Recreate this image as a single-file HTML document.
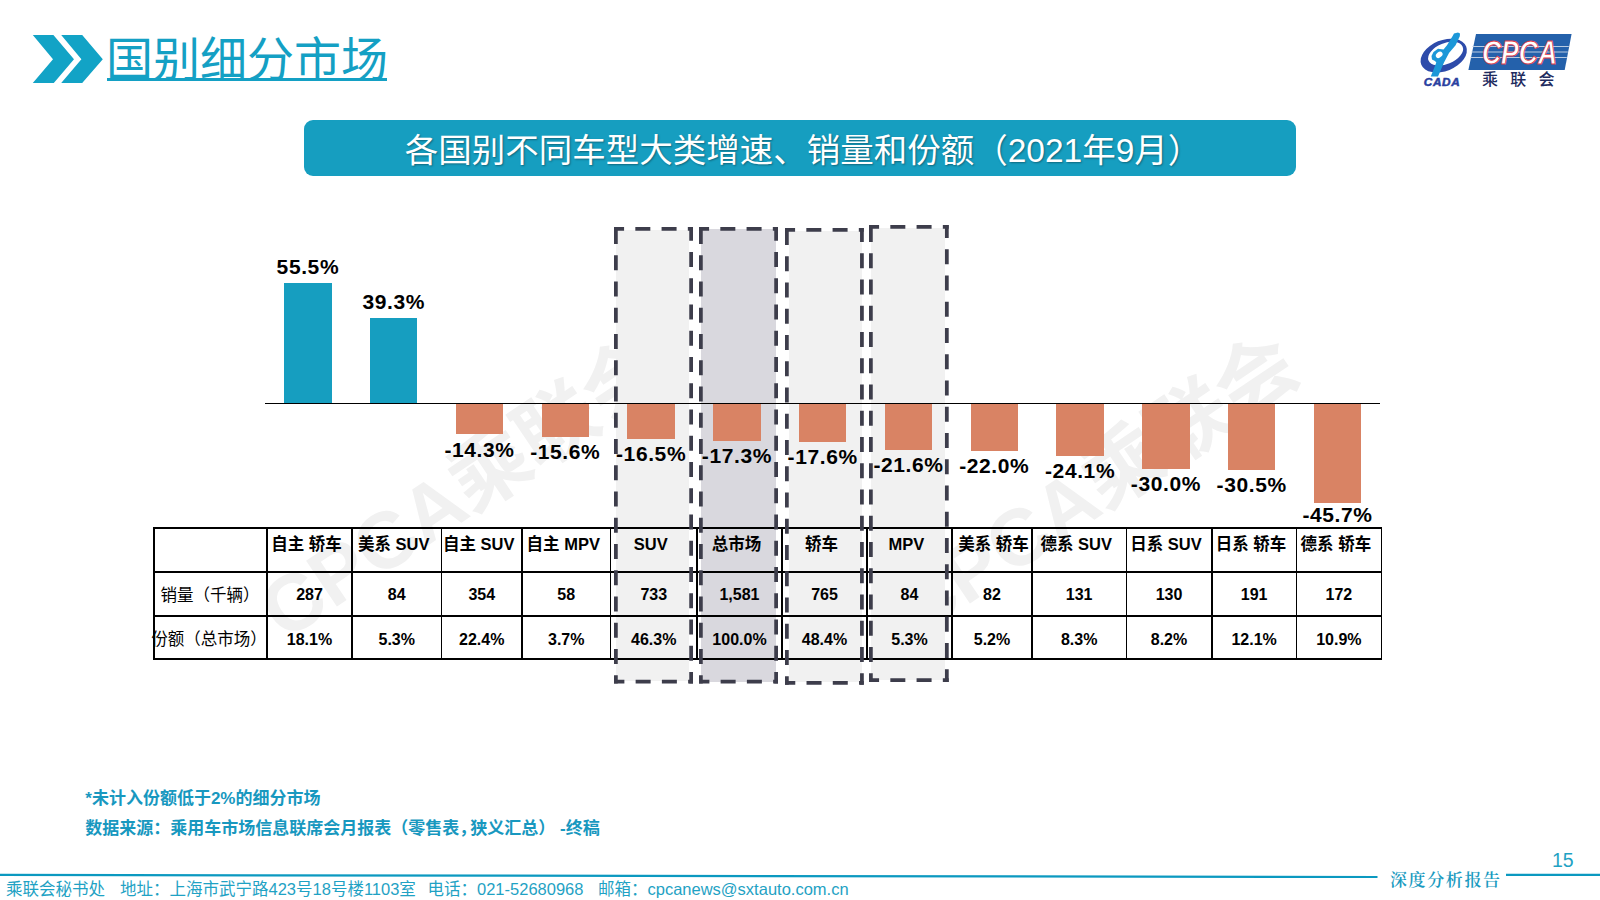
<!DOCTYPE html>
<html lang="zh-CN"><head><meta charset="utf-8"><title>国别细分市场</title>
<style>
*{margin:0;padding:0;box-sizing:border-box}
html,body{width:1600px;height:900px;overflow:hidden;background:#fff}
body{position:relative;font-family:"Liberation Sans","Noto Sans CJK SC",sans-serif;color:#000}
.a{position:absolute}
.lbl{position:absolute;font-family:"Liberation Sans","Noto Sans CJK SC",sans-serif;font-weight:bold;font-size:21px;letter-spacing:0.6px;line-height:20px;white-space:nowrap;text-align:center;width:100px}
.ft{top:878px;font-size:16.5px;line-height:22px;color:#1FA2C4;white-space:nowrap}
.cell{position:absolute;text-align:center;white-space:nowrap;font-weight:bold;font-size:16px;line-height:20px}
</style></head><body>
<svg class="a" style="left:0;top:0" width="120" height="100" viewBox="0 0 120 100">
<polygon fill="#12A3C6" points="32.8,35.1 53.4,35.1 74,59.2 53.8,83 32.8,83 53,59.2"/>
<polygon fill="#12A3C6" points="61.2,35.1 82.2,35.1 102.8,59.2 82.2,83 61.2,83 81.4,59.2"/>
</svg>
<div class="a" style="left:106px;top:32px;font-family:'Liberation Sans','Noto Sans CJK SC',sans-serif;font-weight:400;font-size:47px;line-height:56px;color:#14A0C4;white-space:nowrap">国别细分市场</div>
<div class="a" style="left:107px;top:78px;width:280px;height:3px;background:#14A0C4"></div>
<svg class="a" style="left:1410px;top:26px" width="170" height="66" viewBox="1410 26 170 66">
<polygon fill="#2461AB" points="1476,34 1571.6,34 1564.7,69.9 1468.4,69.9"/>
<g stroke="#B9CBE2" stroke-width="1.1"><line x1="1472.5" y1="46.5" x2="1568.8" y2="46.5"/><line x1="1471.5" y1="52" x2="1567.8" y2="52"/><line x1="1470.5" y1="57.5" x2="1566.8" y2="57.5"/></g>
<text x="1519.5" y="64.4" text-anchor="middle" font-family="Liberation Sans, sans-serif" font-weight="bold" font-style="italic" font-size="32.5" fill="#fff" stroke="#E23C48" stroke-width="0.9" transform="translate(1519.5 0) scale(0.815 1) translate(-1519.5 0)">CPCA</text>
<text x="1482" y="84.8" font-family="Liberation Sans, Noto Sans CJK SC, sans-serif" font-weight="500" font-size="16" fill="#1E2B5E" letter-spacing="12.3">乘联会</text>
<g transform="rotate(-22 1443.75 55.6)"><ellipse cx="1443.75" cy="55.6" rx="24.2" ry="15.4" fill="#2D4BAA"/></g>
<g transform="rotate(-22 1445.6 53.6)"><ellipse cx="1445.6" cy="53.6" rx="18.4" ry="10.4" fill="#fff"/></g>
<path fill="#1C97D8" d="M1430.8,76.5 L1438,76.5 L1444,62.4 L1449,53 L1455.6,45.2 L1459.8,36.3 L1460,33.5 L1458,32.5 L1454,33.5 L1452.5,36.3 L1447,45.2 L1443.5,49.5 L1438,48.8 L1433.5,52 L1431.5,56 L1432,59.5 L1435,61 L1436.3,62.4 Z"/>
<ellipse cx="1439.2" cy="54.8" rx="3.7" ry="2.7" transform="rotate(-40 1439.2 54.8)" fill="#fff"/>
<text x="1423.8" y="85.6" font-family="Liberation Sans, sans-serif" font-weight="bold" font-style="italic" font-size="10.5" fill="#2A3FA0" stroke="#2A3FA0" stroke-width="0.5" letter-spacing="0.6" transform="translate(1423.8 85.6) scale(1.12 1) translate(-1423.8 -85.6)">CADA</text>
</svg>
<div class="a" style="left:304px;top:120px;width:992px;height:56px;border-radius:9px;background:#169EC0"></div>
<div class="a" style="left:303px;top:123px;width:1000px;height:56px;text-align:center;font-family:'Liberation Sans','Noto Sans CJK SC',sans-serif;font-size:33.5px;line-height:56px;color:#fff;white-space:nowrap;text-shadow:1px 1px 2px rgba(0,0,0,.35)">各国别不同车型大类增速、销量和份额（2021年9月）</div>
<div class="a" style="left:163px;top:439px;width:600px;height:100px;line-height:100px;text-align:center;font-family:'Liberation Sans','Noto Sans CJK SC',sans-serif;font-weight:bold;font-size:80px;color:#F1F1F1;transform:rotate(-34deg);white-space:nowrap">CPCA乘联会</div>
<div class="a" style="left:796px;top:436px;width:600px;height:100px;line-height:100px;text-align:center;font-family:'Liberation Sans','Noto Sans CJK SC',sans-serif;font-weight:bold;font-size:80px;color:#F1F1F1;transform:rotate(-34deg);white-space:nowrap">CPCA乘联会</div>
<div class="a" style="left:615.7px;top:229.5px;width:73.3px;height:451.5px;background:#F1F1F1"></div>
<div class="a" style="left:700.6px;top:228.5px;width:75.9px;height:453.5px;background:#D9D8DE"></div>
<div class="a" style="left:788.5px;top:231px;width:73.0px;height:451.0px;background:#F1F1F1"></div>
<div class="a" style="left:871.4px;top:228px;width:73.6px;height:452.0px;background:#F1F1F1"></div>
<div class="a" style="left:265.0px;top:403.0px;width:1115px;height:1.2px;background:#000"></div>
<div class="a" style="left:284.1px;top:283.1px;width:47.5px;height:120.4px;background:#169EC0"></div>
<div class="lbl" style="left:257.9px;top:256.7px">55.5%</div>
<div class="a" style="left:369.9px;top:318.2px;width:47.5px;height:85.3px;background:#169EC0"></div>
<div class="lbl" style="left:343.7px;top:291.8px">39.3%</div>
<div class="a" style="left:455.8px;top:404.2px;width:47.5px;height:30.3px;background:#D98364"></div>
<div class="lbl" style="left:429.5px;top:439.5px">-14.3%</div>
<div class="a" style="left:541.5px;top:404.2px;width:47.5px;height:33.2px;background:#D98364"></div>
<div class="lbl" style="left:515.3px;top:442.4px">-15.6%</div>
<div class="a" style="left:627.3px;top:404.2px;width:47.5px;height:35.1px;background:#D98364"></div>
<div class="lbl" style="left:601.1px;top:444.3px">-16.5%</div>
<div class="a" style="left:713.1px;top:404.2px;width:47.5px;height:36.8px;background:#D98364"></div>
<div class="lbl" style="left:686.9px;top:446.0px">-17.3%</div>
<div class="a" style="left:798.9px;top:404.2px;width:47.5px;height:37.5px;background:#D98364"></div>
<div class="lbl" style="left:772.7px;top:446.7px">-17.6%</div>
<div class="a" style="left:884.8px;top:404.2px;width:47.5px;height:46.2px;background:#D98364"></div>
<div class="lbl" style="left:858.5px;top:455.4px">-21.6%</div>
<div class="a" style="left:970.5px;top:404.2px;width:47.5px;height:47.0px;background:#D98364"></div>
<div class="lbl" style="left:944.3px;top:456.2px">-22.0%</div>
<div class="a" style="left:1056.3px;top:404.2px;width:47.5px;height:51.6px;background:#D98364"></div>
<div class="lbl" style="left:1030.1px;top:460.8px">-24.1%</div>
<div class="a" style="left:1142.2px;top:404.2px;width:47.5px;height:64.4px;background:#D98364"></div>
<div class="lbl" style="left:1115.9px;top:473.6px">-30.0%</div>
<div class="a" style="left:1227.9px;top:404.2px;width:47.5px;height:65.5px;background:#D98364"></div>
<div class="lbl" style="left:1201.7px;top:474.7px">-30.5%</div>
<div class="a" style="left:1313.8px;top:404.2px;width:47.5px;height:98.5px;background:#D98364"></div>
<div class="lbl" style="left:1287.5px;top:505.0px">-45.7%</div>
<div class="a" style="left:153.7px;top:527px;width:1228.6px;height:2px;background:#000"></div>
<div class="a" style="left:153.7px;top:571px;width:1228.6px;height:2px;background:#000"></div>
<div class="a" style="left:153.7px;top:614.5px;width:1228.6px;height:2px;background:#000"></div>
<div class="a" style="left:153.7px;top:657.5px;width:1228.6px;height:2px;background:#000"></div>
<div class="a" style="left:152.95px;top:527px;width:1.6px;height:132.5px;background:#000"></div>
<div class="a" style="left:266.25px;top:527px;width:1.6px;height:132.5px;background:#000"></div>
<div class="a" style="left:351.25px;top:527px;width:1.6px;height:132.5px;background:#000"></div>
<div class="a" style="left:440.75px;top:527px;width:1.6px;height:132.5px;background:#000"></div>
<div class="a" style="left:521.25px;top:527px;width:1.6px;height:132.5px;background:#000"></div>
<div class="a" style="left:609.75px;top:527px;width:1.6px;height:132.5px;background:#000"></div>
<div class="a" style="left:696.25px;top:527px;width:1.6px;height:132.5px;background:#000"></div>
<div class="a" style="left:781.25px;top:527px;width:1.6px;height:132.5px;background:#000"></div>
<div class="a" style="left:866.25px;top:527px;width:1.6px;height:132.5px;background:#000"></div>
<div class="a" style="left:951.25px;top:527px;width:1.6px;height:132.5px;background:#000"></div>
<div class="a" style="left:1031.25px;top:527px;width:1.6px;height:132.5px;background:#000"></div>
<div class="a" style="left:1125.55px;top:527px;width:1.6px;height:132.5px;background:#000"></div>
<div class="a" style="left:1210.95px;top:527px;width:1.6px;height:132.5px;background:#000"></div>
<div class="a" style="left:1295.75px;top:527px;width:1.6px;height:132.5px;background:#000"></div>
<div class="a" style="left:1380.55px;top:527px;width:1.6px;height:132.5px;background:#000"></div>
<div class="cell" style="left:264px;top:533.5px;width:85px;font-size:16.5px">自主 轿车</div>
<div class="cell" style="left:267px;top:585px;width:85px">287</div>
<div class="cell" style="left:267px;top:629.5px;width:85px">18.1%</div>
<div class="cell" style="left:349px;top:533.5px;width:89.5px;font-size:16.5px">美系 SUV</div>
<div class="cell" style="left:352px;top:585px;width:89.5px">84</div>
<div class="cell" style="left:352px;top:629.5px;width:89.5px">5.3%</div>
<div class="cell" style="left:438.5px;top:533.5px;width:80.5px;font-size:16.5px">自主 SUV</div>
<div class="cell" style="left:441.5px;top:585px;width:80.5px">354</div>
<div class="cell" style="left:441.5px;top:629.5px;width:80.5px">22.4%</div>
<div class="cell" style="left:519px;top:533.5px;width:88.5px;font-size:16.5px">自主 MPV</div>
<div class="cell" style="left:522px;top:585px;width:88.5px">58</div>
<div class="cell" style="left:522px;top:629.5px;width:88.5px">3.7%</div>
<div class="cell" style="left:607.5px;top:533.5px;width:86.5px;font-size:16.5px">SUV</div>
<div class="cell" style="left:610.5px;top:585px;width:86.5px">733</div>
<div class="cell" style="left:610.5px;top:629.5px;width:86.5px">46.3%</div>
<div class="cell" style="left:694px;top:533.5px;width:85px;font-size:16.5px">总市场</div>
<div class="cell" style="left:697px;top:585px;width:85px">1,581</div>
<div class="cell" style="left:697px;top:629.5px;width:85px">100.0%</div>
<div class="cell" style="left:779px;top:533.5px;width:85px;font-size:16.5px">轿车</div>
<div class="cell" style="left:782px;top:585px;width:85px">765</div>
<div class="cell" style="left:782px;top:629.5px;width:85px">48.4%</div>
<div class="cell" style="left:864px;top:533.5px;width:85px;font-size:16.5px">MPV</div>
<div class="cell" style="left:867px;top:585px;width:85px">84</div>
<div class="cell" style="left:867px;top:629.5px;width:85px">5.3%</div>
<div class="cell" style="left:953.5px;top:533.5px;width:80px;font-size:16.5px">美系 轿车</div>
<div class="cell" style="left:952px;top:585px;width:80px">82</div>
<div class="cell" style="left:952px;top:629.5px;width:80px">5.2%</div>
<div class="cell" style="left:1029px;top:533.5px;width:94.29999999999995px;font-size:16.5px">德系 SUV</div>
<div class="cell" style="left:1032px;top:585px;width:94.29999999999995px">131</div>
<div class="cell" style="left:1032px;top:629.5px;width:94.29999999999995px">8.3%</div>
<div class="cell" style="left:1123.3px;top:533.5px;width:85.40000000000009px;font-size:16.5px">日系 SUV</div>
<div class="cell" style="left:1126.3px;top:585px;width:85.40000000000009px">130</div>
<div class="cell" style="left:1126.3px;top:629.5px;width:85.40000000000009px">8.2%</div>
<div class="cell" style="left:1208.7px;top:533.5px;width:84.79999999999995px;font-size:16.5px">日系 轿车</div>
<div class="cell" style="left:1211.7px;top:585px;width:84.79999999999995px">191</div>
<div class="cell" style="left:1211.7px;top:629.5px;width:84.79999999999995px">12.1%</div>
<div class="cell" style="left:1293.5px;top:533.5px;width:84.79999999999995px;font-size:16.5px">德系 轿车</div>
<div class="cell" style="left:1296.5px;top:585px;width:84.79999999999995px">172</div>
<div class="cell" style="left:1296.5px;top:629.5px;width:84.79999999999995px">10.9%</div>
<div class="cell" style="left:153px;top:584.5px;width:114px;font-weight:normal;font-size:16.5px">销量（千辆）</div>
<div class="cell" style="left:150px;top:628.5px;width:118px;font-weight:normal;font-size:16.5px">份额（总市场）</div>
<svg class="a" style="left:0;top:0" width="1600" height="900"><g stroke="#3D3D4B" stroke-width="3.75" stroke-dasharray="15 11.25" fill="none">
<line x1="614.00" y1="228.97" x2="693.00" y2="228.97" stroke-dashoffset="4.92"/><line x1="691.12" y1="227.10" x2="691.12" y2="683.60" stroke-dashoffset="1.42"/><line x1="615.88" y1="227.10" x2="615.88" y2="683.60" stroke-dashoffset="24.38"/><line x1="614.00" y1="681.73" x2="693.00" y2="681.73" stroke-dashoffset="4.62"/>
<line x1="699.00" y1="228.97" x2="778.00" y2="228.97" stroke-dashoffset="4.92"/><line x1="776.12" y1="227.10" x2="776.12" y2="683.60" stroke-dashoffset="1.42"/><line x1="700.88" y1="227.10" x2="700.88" y2="683.60" stroke-dashoffset="24.38"/><line x1="699.00" y1="681.73" x2="778.00" y2="681.73" stroke-dashoffset="4.62"/>
<line x1="785.00" y1="229.97" x2="863.80" y2="229.97" stroke-dashoffset="4.92"/><line x1="861.92" y1="228.10" x2="861.92" y2="684.70" stroke-dashoffset="1.22"/><line x1="786.88" y1="228.10" x2="786.88" y2="684.70" stroke-dashoffset="24.38"/><line x1="785.00" y1="682.83" x2="863.80" y2="682.83" stroke-dashoffset="4.73"/>
<line x1="869.00" y1="226.97" x2="948.70" y2="226.97" stroke-dashoffset="4.92"/><line x1="946.83" y1="225.10" x2="946.83" y2="681.90" stroke-dashoffset="2.13"/><line x1="870.88" y1="225.10" x2="870.88" y2="681.90" stroke-dashoffset="24.38"/><line x1="869.00" y1="680.02" x2="948.70" y2="680.02" stroke-dashoffset="4.92"/>
</g></svg>
<div class="a" style="left:85.3px;top:787px;font-weight:bold;font-size:17px;line-height:24px;color:#1898BF;white-space:nowrap">*未计入份额低于2%的细分市场</div>
<div class="a" style="left:85.3px;top:817px;font-weight:bold;font-size:17px;line-height:24px;color:#1898BF;white-space:nowrap">数据来源：乘用车市场信息联席会月报表（零售表<span style="letter-spacing:-6px">，</span>狭义汇总）&nbsp;-终稿</div>
<svg class="a" style="left:0;top:860px" width="1600" height="30" viewBox="0 860 1600 30"><line x1="0" y1="874.9" x2="1377.5" y2="877" stroke="#0B99C0" stroke-width="2.2"/><line x1="1506" y1="874.9" x2="1600" y2="874.9" stroke="#0B99C0" stroke-width="2.2"/></svg>
<div class="a ft" style="left:6px">乘联会秘书处</div>
<div class="a ft" style="left:120px">地址：上海市武宁路423号18号楼1103室</div>
<div class="a ft" style="left:427.5px">电话：021-52680968</div>
<div class="a ft" style="left:598px">邮箱：cpcanews@sxtauto.com.cn</div>
<div class="a" style="left:1390px;top:868.5px;font-family:'Liberation Serif','Noto Serif CJK SC',serif;font-weight:600;font-size:17px;line-height:24px;letter-spacing:1.6px;color:#1A9AC0;white-space:nowrap">深度分析报告</div>
<div class="a" style="left:1552px;top:848.5px;font-size:19.5px;line-height:22px;color:#1FA2C4">15</div>
</body></html>
